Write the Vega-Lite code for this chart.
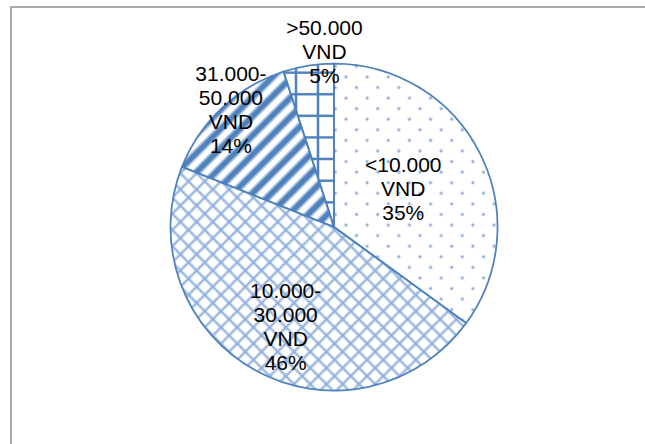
{
  "$schema": "https://vega.github.io/schema/vega-lite/v6.json",
  "width": 646,
  "height": 440,
  "autosize": {"type": "none"},
  "padding": {"left": 11, "top": 7, "right": -12, "bottom": -3},
  "background": "#ffffff",
  "view": {"stroke": "#8f8f8f", "strokeWidth": 1.5, "fill": "#ffffff"},
  "config": {"view": {"stroke": "#8f8f8f", "strokeWidth": 1.5}},
  "data": {
    "values": [
      {"cat": "<10.000 VND", "value": 35, "lab": "<10.000\nVND\n35%"},
      {"cat": "10.000-30.000 VND", "value": 46, "lab": "10.000-\n30.000\nVND\n46%"},
      {"cat": "31.000-50.000 VND", "value": 14, "lab": "31.000-\n50.000\nVND\n14%"},
      {"cat": ">50.000 VND", "value": 5, "lab": ">50.000\nVND\n5%"}
    ]
  },
  "transform": [{"window": [{"op": "row_number", "as": "idx"}]}],
  "encoding": {
    "theta": {"field": "value", "type": "quantitative", "stack": true},
    "order": {"field": "idx", "type": "quantitative", "sort": "ascending"},
    "detail": {"field": "cat", "type": "nominal"}
  },
  "layer": [
    {
      "mark": {"type": "arc", "radius": 163.5},
      "encoding": {
        "fill": {"condition": {"test": "datum.cat === '<10.000 VND'", "value": "#6892c9"}, "value": "#ffffff"}
      }
    },
    {
      "mark": {"type": "arc", "radius": 163.5},
      "encoding": {
        "fill": {
          "condition": [
            {"test": "datum.cat === '<10.000 VND'", "value": {"gradient": "linear", "x1": 0, "y1": 0, "x2": 0.735, "y2": 1.167, "stops": [
              {"offset":0.002,"color":"#ffffff"},{"offset":0.01,"color":"#ffffff00"},{"offset":0.018,"color":"#ffffff"},
              {"offset":0.052,"color":"#ffffff"},{"offset":0.06,"color":"#ffffff00"},{"offset":0.068,"color":"#ffffff"},
              {"offset":0.102,"color":"#ffffff"},{"offset":0.11,"color":"#ffffff00"},{"offset":0.118,"color":"#ffffff"},
              {"offset":0.152,"color":"#ffffff"},{"offset":0.16,"color":"#ffffff00"},{"offset":0.168,"color":"#ffffff"},
              {"offset":0.202,"color":"#ffffff"},{"offset":0.21,"color":"#ffffff00"},{"offset":0.218,"color":"#ffffff"},
              {"offset":0.252,"color":"#ffffff"},{"offset":0.26,"color":"#ffffff00"},{"offset":0.268,"color":"#ffffff"},
              {"offset":0.302,"color":"#ffffff"},{"offset":0.31,"color":"#ffffff00"},{"offset":0.318,"color":"#ffffff"},
              {"offset":0.352,"color":"#ffffff"},{"offset":0.36,"color":"#ffffff00"},{"offset":0.368,"color":"#ffffff"},
              {"offset":0.402,"color":"#ffffff"},{"offset":0.41,"color":"#ffffff00"},{"offset":0.418,"color":"#ffffff"},
              {"offset":0.452,"color":"#ffffff"},{"offset":0.46,"color":"#ffffff00"},{"offset":0.468,"color":"#ffffff"},
              {"offset":0.502,"color":"#ffffff"},{"offset":0.51,"color":"#ffffff00"},{"offset":0.518,"color":"#ffffff"},
              {"offset":0.552,"color":"#ffffff"},{"offset":0.56,"color":"#ffffff00"},{"offset":0.568,"color":"#ffffff"},
              {"offset":0.602,"color":"#ffffff"},{"offset":0.61,"color":"#ffffff00"},{"offset":0.618,"color":"#ffffff"},
              {"offset":0.652,"color":"#ffffff"},{"offset":0.66,"color":"#ffffff00"},{"offset":0.668,"color":"#ffffff"},
              {"offset":0.702,"color":"#ffffff"},{"offset":0.71,"color":"#ffffff00"},{"offset":0.718,"color":"#ffffff"},
              {"offset":0.752,"color":"#ffffff"},{"offset":0.76,"color":"#ffffff00"},{"offset":0.768,"color":"#ffffff"},
              {"offset":0.802,"color":"#ffffff"},{"offset":0.81,"color":"#ffffff00"},{"offset":0.818,"color":"#ffffff"},
              {"offset":0.852,"color":"#ffffff"},{"offset":0.86,"color":"#ffffff00"},{"offset":0.868,"color":"#ffffff"},
              {"offset":0.902,"color":"#ffffff"},{"offset":0.91,"color":"#ffffff00"},{"offset":0.918,"color":"#ffffff"},
              {"offset":0.952,"color":"#ffffff"},{"offset":0.96,"color":"#ffffff00"},{"offset":0.968,"color":"#ffffff"}
            ]}},
            {"test": "datum.cat === '10.000-30.000 VND'", "value": {"gradient": "linear", "x1": 0, "y1": 0, "x2": 1.117, "y2": 0.845, "stops": [
              {"offset":0,"color":"#8eaedb"},{"offset":0.006,"color":"#8eaedb00"},
              {"offset":0.0253,"color":"#8eaedb00"},{"offset":0.0313,"color":"#8eaedb"},{"offset":0.0373,"color":"#8eaedb00"},
              {"offset":0.0565,"color":"#8eaedb00"},{"offset":0.0625,"color":"#8eaedb"},{"offset":0.0685,"color":"#8eaedb00"},
              {"offset":0.0878,"color":"#8eaedb00"},{"offset":0.0938,"color":"#8eaedb"},{"offset":0.0998,"color":"#8eaedb00"},
              {"offset":0.119,"color":"#8eaedb00"},{"offset":0.125,"color":"#8eaedb"},{"offset":0.131,"color":"#8eaedb00"},
              {"offset":0.1503,"color":"#8eaedb00"},{"offset":0.1563,"color":"#8eaedb"},{"offset":0.1623,"color":"#8eaedb00"},
              {"offset":0.1815,"color":"#8eaedb00"},{"offset":0.1875,"color":"#8eaedb"},{"offset":0.1935,"color":"#8eaedb00"},
              {"offset":0.2128,"color":"#8eaedb00"},{"offset":0.2188,"color":"#8eaedb"},{"offset":0.2248,"color":"#8eaedb00"},
              {"offset":0.244,"color":"#8eaedb00"},{"offset":0.25,"color":"#8eaedb"},{"offset":0.256,"color":"#8eaedb00"},
              {"offset":0.2753,"color":"#8eaedb00"},{"offset":0.2813,"color":"#8eaedb"},{"offset":0.2873,"color":"#8eaedb00"},
              {"offset":0.3065,"color":"#8eaedb00"},{"offset":0.3125,"color":"#8eaedb"},{"offset":0.3185,"color":"#8eaedb00"},
              {"offset":0.3378,"color":"#8eaedb00"},{"offset":0.3438,"color":"#8eaedb"},{"offset":0.3498,"color":"#8eaedb00"},
              {"offset":0.369,"color":"#8eaedb00"},{"offset":0.375,"color":"#8eaedb"},{"offset":0.381,"color":"#8eaedb00"},
              {"offset":0.4003,"color":"#8eaedb00"},{"offset":0.4063,"color":"#8eaedb"},{"offset":0.4123,"color":"#8eaedb00"},
              {"offset":0.4315,"color":"#8eaedb00"},{"offset":0.4375,"color":"#8eaedb"},{"offset":0.4435,"color":"#8eaedb00"},
              {"offset":0.4628,"color":"#8eaedb00"},{"offset":0.4688,"color":"#8eaedb"},{"offset":0.4748,"color":"#8eaedb00"},
              {"offset":0.494,"color":"#8eaedb00"},{"offset":0.5,"color":"#8eaedb"},{"offset":0.506,"color":"#8eaedb00"},
              {"offset":0.5253,"color":"#8eaedb00"},{"offset":0.5313,"color":"#8eaedb"},{"offset":0.5373,"color":"#8eaedb00"},
              {"offset":0.5565,"color":"#8eaedb00"},{"offset":0.5625,"color":"#8eaedb"},{"offset":0.5685,"color":"#8eaedb00"},
              {"offset":0.5878,"color":"#8eaedb00"},{"offset":0.5938,"color":"#8eaedb"},{"offset":0.5998,"color":"#8eaedb00"},
              {"offset":0.619,"color":"#8eaedb00"},{"offset":0.625,"color":"#8eaedb"},{"offset":0.631,"color":"#8eaedb00"},
              {"offset":0.6503,"color":"#8eaedb00"},{"offset":0.6563,"color":"#8eaedb"},{"offset":0.6623,"color":"#8eaedb00"},
              {"offset":0.6815,"color":"#8eaedb00"},{"offset":0.6875,"color":"#8eaedb"},{"offset":0.6935,"color":"#8eaedb00"},
              {"offset":0.7128,"color":"#8eaedb00"},{"offset":0.7188,"color":"#8eaedb"},{"offset":0.7248,"color":"#8eaedb00"},
              {"offset":0.744,"color":"#8eaedb00"},{"offset":0.75,"color":"#8eaedb"},{"offset":0.756,"color":"#8eaedb00"},
              {"offset":0.7753,"color":"#8eaedb00"},{"offset":0.7813,"color":"#8eaedb"},{"offset":0.7873,"color":"#8eaedb00"},
              {"offset":0.8065,"color":"#8eaedb00"},{"offset":0.8125,"color":"#8eaedb"},{"offset":0.8185,"color":"#8eaedb00"},
              {"offset":0.8378,"color":"#8eaedb00"},{"offset":0.8438,"color":"#8eaedb"},{"offset":0.8498,"color":"#8eaedb00"},
              {"offset":0.869,"color":"#8eaedb00"},{"offset":0.875,"color":"#8eaedb"},{"offset":0.881,"color":"#8eaedb00"},
              {"offset":0.9003,"color":"#8eaedb00"},{"offset":0.9063,"color":"#8eaedb"},{"offset":0.9123,"color":"#8eaedb00"},
              {"offset":0.9315,"color":"#8eaedb00"},{"offset":0.9375,"color":"#8eaedb"},{"offset":0.9435,"color":"#8eaedb00"},
              {"offset":0.9628,"color":"#8eaedb00"},{"offset":0.9688,"color":"#8eaedb"},{"offset":0.9748,"color":"#8eaedb00"},
              {"offset":0.994,"color":"#8eaedb00"},{"offset":1,"color":"#8eaedb"}
            ]}},
            {"test": "datum.cat === '31.000-50.000 VND'", "value": {"gradient": "linear", "x1": 0, "y1": 0, "x2": 0.9885, "y2": 1.0113, "stops": [
              {"offset":0,"color":"#4f81bd"},{"offset":0.0075,"color":"#4f81bd"},{"offset":0.0225,"color":"#4f81bd00"},
              {"offset":0.04,"color":"#4f81bd00"},{"offset":0.055,"color":"#4f81bd"},{"offset":0.07,"color":"#4f81bd"},{"offset":0.085,"color":"#4f81bd00"},
              {"offset":0.1025,"color":"#4f81bd00"},{"offset":0.1175,"color":"#4f81bd"},{"offset":0.1325,"color":"#4f81bd"},{"offset":0.1475,"color":"#4f81bd00"},
              {"offset":0.165,"color":"#4f81bd00"},{"offset":0.18,"color":"#4f81bd"},{"offset":0.195,"color":"#4f81bd"},{"offset":0.21,"color":"#4f81bd00"},
              {"offset":0.2275,"color":"#4f81bd00"},{"offset":0.2425,"color":"#4f81bd"},{"offset":0.2575,"color":"#4f81bd"},{"offset":0.2725,"color":"#4f81bd00"},
              {"offset":0.29,"color":"#4f81bd00"},{"offset":0.305,"color":"#4f81bd"},{"offset":0.32,"color":"#4f81bd"},{"offset":0.335,"color":"#4f81bd00"},
              {"offset":0.3525,"color":"#4f81bd00"},{"offset":0.3675,"color":"#4f81bd"},{"offset":0.3825,"color":"#4f81bd"},{"offset":0.3975,"color":"#4f81bd00"},
              {"offset":0.415,"color":"#4f81bd00"},{"offset":0.43,"color":"#4f81bd"},{"offset":0.445,"color":"#4f81bd"},{"offset":0.46,"color":"#4f81bd00"},
              {"offset":0.4775,"color":"#4f81bd00"},{"offset":0.4925,"color":"#4f81bd"},{"offset":0.5075,"color":"#4f81bd"},{"offset":0.5225,"color":"#4f81bd00"},
              {"offset":0.54,"color":"#4f81bd00"},{"offset":0.555,"color":"#4f81bd"},{"offset":0.57,"color":"#4f81bd"},{"offset":0.585,"color":"#4f81bd00"},
              {"offset":0.6025,"color":"#4f81bd00"},{"offset":0.6175,"color":"#4f81bd"},{"offset":0.6325,"color":"#4f81bd"},{"offset":0.6475,"color":"#4f81bd00"},
              {"offset":0.665,"color":"#4f81bd00"},{"offset":0.68,"color":"#4f81bd"},{"offset":0.695,"color":"#4f81bd"},{"offset":0.71,"color":"#4f81bd00"},
              {"offset":0.7275,"color":"#4f81bd00"},{"offset":0.7425,"color":"#4f81bd"},{"offset":0.7575,"color":"#4f81bd"},{"offset":0.7725,"color":"#4f81bd00"},
              {"offset":0.79,"color":"#4f81bd00"},{"offset":0.805,"color":"#4f81bd"},{"offset":0.82,"color":"#4f81bd"},{"offset":0.835,"color":"#4f81bd00"},
              {"offset":0.8525,"color":"#4f81bd00"},{"offset":0.8675,"color":"#4f81bd"},{"offset":0.8825,"color":"#4f81bd"},{"offset":0.8975,"color":"#4f81bd00"},
              {"offset":0.915,"color":"#4f81bd00"},{"offset":0.93,"color":"#4f81bd"},{"offset":0.945,"color":"#4f81bd"},{"offset":0.96,"color":"#4f81bd00"},
              {"offset":0.9775,"color":"#4f81bd00"},{"offset":0.9925,"color":"#4f81bd"},{"offset":1,"color":"#4f81bd"}
            ]}},
            {"test": "datum.cat === '>50.000 VND'", "value": {"gradient": "linear", "x1": 0, "y1": 0, "x2": 0, "y2": 1, "stops": [
              {"offset":0.045,"color":"#4f81bd00"},{"offset":0.052,"color":"#4f81bd"},{"offset":0.060,"color":"#4f81bd"},{"offset":0.067,"color":"#4f81bd00"},
              {"offset":0.177,"color":"#4f81bd00"},{"offset":0.184,"color":"#4f81bd"},{"offset":0.192,"color":"#4f81bd"},{"offset":0.199,"color":"#4f81bd00"},
              {"offset":0.309,"color":"#4f81bd00"},{"offset":0.316,"color":"#4f81bd"},{"offset":0.324,"color":"#4f81bd"},{"offset":0.331,"color":"#4f81bd00"},
              {"offset":0.441,"color":"#4f81bd00"},{"offset":0.448,"color":"#4f81bd"},{"offset":0.456,"color":"#4f81bd"},{"offset":0.463,"color":"#4f81bd00"},
              {"offset":0.573,"color":"#4f81bd00"},{"offset":0.580,"color":"#4f81bd"},{"offset":0.588,"color":"#4f81bd"},{"offset":0.595,"color":"#4f81bd00"},
              {"offset":0.706,"color":"#4f81bd00"},{"offset":0.713,"color":"#4f81bd"},{"offset":0.721,"color":"#4f81bd"},{"offset":0.728,"color":"#4f81bd00"},
              {"offset":0.838,"color":"#4f81bd00"},{"offset":0.845,"color":"#4f81bd"},{"offset":0.853,"color":"#4f81bd"},{"offset":0.860,"color":"#4f81bd00"},
              {"offset":0.970,"color":"#4f81bd00"},{"offset":0.977,"color":"#4f81bd"},{"offset":0.985,"color":"#4f81bd"},{"offset":0.992,"color":"#4f81bd00"}
            ]}}
          ],
          "value": "transparent"
        }
      }
    },
    {
      "mark": {"type": "arc", "radius": 163.5},
      "encoding": {
        "fill": {
          "condition": [
            {"test": "datum.cat === '<10.000 VND'", "value": {"gradient": "linear", "x1": 0, "y1": 1, "x2": 0.735, "y2": -0.167, "stops": [
              {"offset":0.002,"color":"#ffffff"},{"offset":0.01,"color":"#ffffff00"},{"offset":0.018,"color":"#ffffff"},
              {"offset":0.052,"color":"#ffffff"},{"offset":0.06,"color":"#ffffff00"},{"offset":0.068,"color":"#ffffff"},
              {"offset":0.102,"color":"#ffffff"},{"offset":0.11,"color":"#ffffff00"},{"offset":0.118,"color":"#ffffff"},
              {"offset":0.152,"color":"#ffffff"},{"offset":0.16,"color":"#ffffff00"},{"offset":0.168,"color":"#ffffff"},
              {"offset":0.202,"color":"#ffffff"},{"offset":0.21,"color":"#ffffff00"},{"offset":0.218,"color":"#ffffff"},
              {"offset":0.252,"color":"#ffffff"},{"offset":0.26,"color":"#ffffff00"},{"offset":0.268,"color":"#ffffff"},
              {"offset":0.302,"color":"#ffffff"},{"offset":0.31,"color":"#ffffff00"},{"offset":0.318,"color":"#ffffff"},
              {"offset":0.352,"color":"#ffffff"},{"offset":0.36,"color":"#ffffff00"},{"offset":0.368,"color":"#ffffff"},
              {"offset":0.402,"color":"#ffffff"},{"offset":0.41,"color":"#ffffff00"},{"offset":0.418,"color":"#ffffff"},
              {"offset":0.452,"color":"#ffffff"},{"offset":0.46,"color":"#ffffff00"},{"offset":0.468,"color":"#ffffff"},
              {"offset":0.502,"color":"#ffffff"},{"offset":0.51,"color":"#ffffff00"},{"offset":0.518,"color":"#ffffff"},
              {"offset":0.552,"color":"#ffffff"},{"offset":0.56,"color":"#ffffff00"},{"offset":0.568,"color":"#ffffff"},
              {"offset":0.602,"color":"#ffffff"},{"offset":0.61,"color":"#ffffff00"},{"offset":0.618,"color":"#ffffff"},
              {"offset":0.652,"color":"#ffffff"},{"offset":0.66,"color":"#ffffff00"},{"offset":0.668,"color":"#ffffff"},
              {"offset":0.702,"color":"#ffffff"},{"offset":0.71,"color":"#ffffff00"},{"offset":0.718,"color":"#ffffff"},
              {"offset":0.752,"color":"#ffffff"},{"offset":0.76,"color":"#ffffff00"},{"offset":0.768,"color":"#ffffff"},
              {"offset":0.802,"color":"#ffffff"},{"offset":0.81,"color":"#ffffff00"},{"offset":0.818,"color":"#ffffff"},
              {"offset":0.852,"color":"#ffffff"},{"offset":0.86,"color":"#ffffff00"},{"offset":0.868,"color":"#ffffff"},
              {"offset":0.902,"color":"#ffffff"},{"offset":0.91,"color":"#ffffff00"},{"offset":0.918,"color":"#ffffff"},
              {"offset":0.952,"color":"#ffffff"},{"offset":0.96,"color":"#ffffff00"},{"offset":0.968,"color":"#ffffff"}
            ]}},
            {"test": "datum.cat === '10.000-30.000 VND'", "value": {"gradient": "linear", "x1": 0, "y1": 1, "x2": 1.117, "y2": 0.155, "stops": [
              {"offset":0,"color":"#8eaedb"},{"offset":0.006,"color":"#8eaedb00"},
              {"offset":0.0253,"color":"#8eaedb00"},{"offset":0.0313,"color":"#8eaedb"},{"offset":0.0373,"color":"#8eaedb00"},
              {"offset":0.0565,"color":"#8eaedb00"},{"offset":0.0625,"color":"#8eaedb"},{"offset":0.0685,"color":"#8eaedb00"},
              {"offset":0.0878,"color":"#8eaedb00"},{"offset":0.0938,"color":"#8eaedb"},{"offset":0.0998,"color":"#8eaedb00"},
              {"offset":0.119,"color":"#8eaedb00"},{"offset":0.125,"color":"#8eaedb"},{"offset":0.131,"color":"#8eaedb00"},
              {"offset":0.1503,"color":"#8eaedb00"},{"offset":0.1563,"color":"#8eaedb"},{"offset":0.1623,"color":"#8eaedb00"},
              {"offset":0.1815,"color":"#8eaedb00"},{"offset":0.1875,"color":"#8eaedb"},{"offset":0.1935,"color":"#8eaedb00"},
              {"offset":0.2128,"color":"#8eaedb00"},{"offset":0.2188,"color":"#8eaedb"},{"offset":0.2248,"color":"#8eaedb00"},
              {"offset":0.244,"color":"#8eaedb00"},{"offset":0.25,"color":"#8eaedb"},{"offset":0.256,"color":"#8eaedb00"},
              {"offset":0.2753,"color":"#8eaedb00"},{"offset":0.2813,"color":"#8eaedb"},{"offset":0.2873,"color":"#8eaedb00"},
              {"offset":0.3065,"color":"#8eaedb00"},{"offset":0.3125,"color":"#8eaedb"},{"offset":0.3185,"color":"#8eaedb00"},
              {"offset":0.3378,"color":"#8eaedb00"},{"offset":0.3438,"color":"#8eaedb"},{"offset":0.3498,"color":"#8eaedb00"},
              {"offset":0.369,"color":"#8eaedb00"},{"offset":0.375,"color":"#8eaedb"},{"offset":0.381,"color":"#8eaedb00"},
              {"offset":0.4003,"color":"#8eaedb00"},{"offset":0.4063,"color":"#8eaedb"},{"offset":0.4123,"color":"#8eaedb00"},
              {"offset":0.4315,"color":"#8eaedb00"},{"offset":0.4375,"color":"#8eaedb"},{"offset":0.4435,"color":"#8eaedb00"},
              {"offset":0.4628,"color":"#8eaedb00"},{"offset":0.4688,"color":"#8eaedb"},{"offset":0.4748,"color":"#8eaedb00"},
              {"offset":0.494,"color":"#8eaedb00"},{"offset":0.5,"color":"#8eaedb"},{"offset":0.506,"color":"#8eaedb00"},
              {"offset":0.5253,"color":"#8eaedb00"},{"offset":0.5313,"color":"#8eaedb"},{"offset":0.5373,"color":"#8eaedb00"},
              {"offset":0.5565,"color":"#8eaedb00"},{"offset":0.5625,"color":"#8eaedb"},{"offset":0.5685,"color":"#8eaedb00"},
              {"offset":0.5878,"color":"#8eaedb00"},{"offset":0.5938,"color":"#8eaedb"},{"offset":0.5998,"color":"#8eaedb00"},
              {"offset":0.619,"color":"#8eaedb00"},{"offset":0.625,"color":"#8eaedb"},{"offset":0.631,"color":"#8eaedb00"},
              {"offset":0.6503,"color":"#8eaedb00"},{"offset":0.6563,"color":"#8eaedb"},{"offset":0.6623,"color":"#8eaedb00"},
              {"offset":0.6815,"color":"#8eaedb00"},{"offset":0.6875,"color":"#8eaedb"},{"offset":0.6935,"color":"#8eaedb00"},
              {"offset":0.7128,"color":"#8eaedb00"},{"offset":0.7188,"color":"#8eaedb"},{"offset":0.7248,"color":"#8eaedb00"},
              {"offset":0.744,"color":"#8eaedb00"},{"offset":0.75,"color":"#8eaedb"},{"offset":0.756,"color":"#8eaedb00"},
              {"offset":0.7753,"color":"#8eaedb00"},{"offset":0.7813,"color":"#8eaedb"},{"offset":0.7873,"color":"#8eaedb00"},
              {"offset":0.8065,"color":"#8eaedb00"},{"offset":0.8125,"color":"#8eaedb"},{"offset":0.8185,"color":"#8eaedb00"},
              {"offset":0.8378,"color":"#8eaedb00"},{"offset":0.8438,"color":"#8eaedb"},{"offset":0.8498,"color":"#8eaedb00"},
              {"offset":0.869,"color":"#8eaedb00"},{"offset":0.875,"color":"#8eaedb"},{"offset":0.881,"color":"#8eaedb00"},
              {"offset":0.9003,"color":"#8eaedb00"},{"offset":0.9063,"color":"#8eaedb"},{"offset":0.9123,"color":"#8eaedb00"},
              {"offset":0.9315,"color":"#8eaedb00"},{"offset":0.9375,"color":"#8eaedb"},{"offset":0.9435,"color":"#8eaedb00"},
              {"offset":0.9628,"color":"#8eaedb00"},{"offset":0.9688,"color":"#8eaedb"},{"offset":0.9748,"color":"#8eaedb00"},
              {"offset":0.994,"color":"#8eaedb00"},{"offset":1,"color":"#8eaedb"}
            ]}},
            {"test": "datum.cat === '>50.000 VND'", "value": {"gradient": "linear", "x1": 0, "y1": 0, "x2": 1, "y2": 0, "stops": [
              {"offset":0.2115,"color":"#4f81bd00"},{"offset":0.2355,"color":"#4f81bd"},{"offset":0.2595,"color":"#4f81bd"},{"offset":0.2835,"color":"#4f81bd00"},
              {"offset":0.647,"color":"#4f81bd00"},{"offset":0.671,"color":"#4f81bd"},{"offset":0.695,"color":"#4f81bd"},{"offset":0.719,"color":"#4f81bd00"}
            ]}}
          ],
          "value": "transparent"
        }
      }
    },
    {
      "mark": {"type": "arc", "radius": 163.5, "fill": "transparent", "stroke": "#4f81bd", "strokeWidth": 1.75}
    },
    {
      "mark": {"type": "text", "radius": 80, "dx": -2, "dy": -25, "fontSize": 21, "lineHeight": 24, "lineBreak": "\n", "align": "center", "baseline": "middle", "font": "Liberation Sans", "color": "#000000"},
      "encoding": {"text": {"field": "lab"}, "opacity": {"condition": {"test": "datum.cat === '<10.000 VND'", "value": 1}, "value": 0}}
    },
    {
      "mark": {"type": "text", "radius": 110.7, "dx": 5, "dy": -32.5, "fontSize": 21, "lineHeight": 24, "lineBreak": "\n", "align": "center", "baseline": "middle", "font": "Liberation Sans", "color": "#000000"},
      "encoding": {"text": {"field": "lab"}, "opacity": {"condition": {"test": "datum.cat === '10.000-30.000 VND'", "value": 1}, "value": 0}}
    },
    {
      "mark": {"type": "text", "radius": 155, "dx": 3, "dy": -39.5, "fontSize": 21, "lineHeight": 24, "lineBreak": "\n", "align": "center", "baseline": "middle", "font": "Liberation Sans", "color": "#000000"},
      "encoding": {"text": {"field": "lab"}, "opacity": {"condition": {"test": "datum.cat === '31.000-50.000 VND'", "value": 1}, "value": 0}}
    },
    {
      "mark": {"type": "text", "radius": 176.3, "dx": 18, "dy": -23.7, "fontSize": 21, "lineHeight": 24, "lineBreak": "\n", "align": "center", "baseline": "middle", "font": "Liberation Sans", "color": "#000000"},
      "encoding": {"text": {"field": "lab"}, "opacity": {"condition": {"test": "datum.cat === '>50.000 VND'", "value": 1}, "value": 0}}
    }
  ]
}
